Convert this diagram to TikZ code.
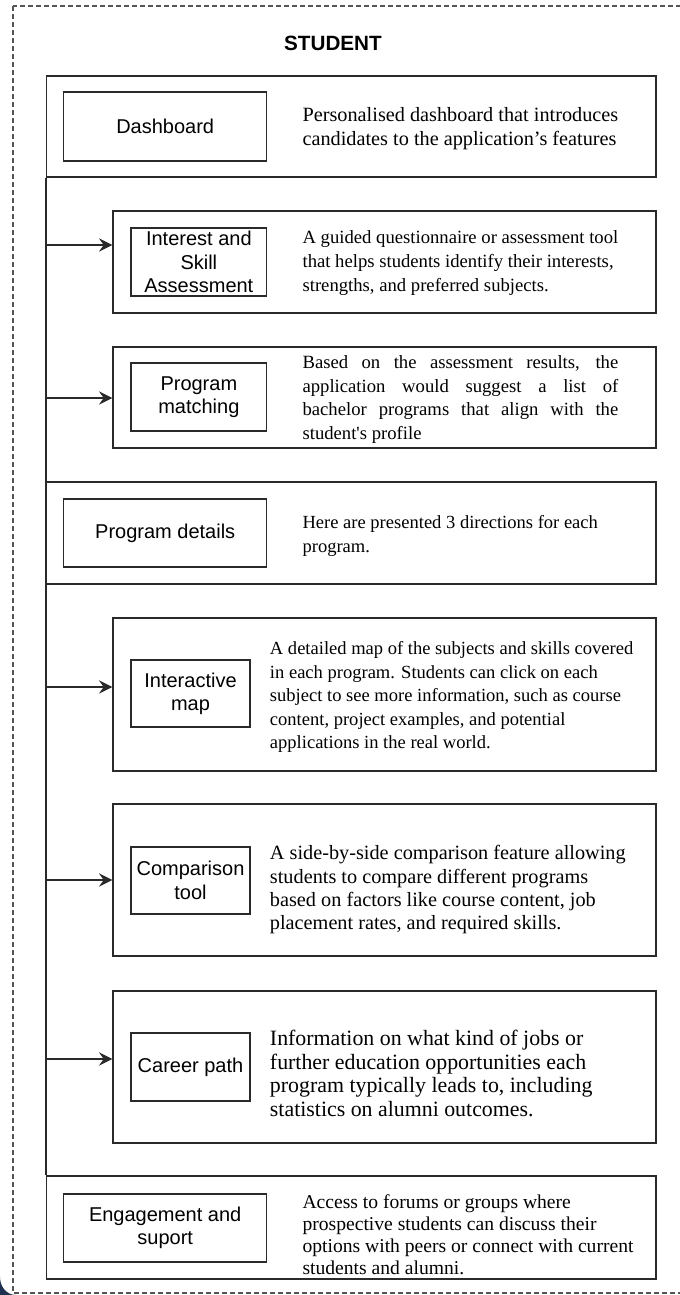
\documentclass[tikz,border=0pt]{standalone}
\usepackage{fontspec}
\setmainfont{Liberation Serif}
\setsansfont{Liberation Sans}
\usetikzlibrary{arrows.meta,fit,calc}

\definecolor{ink}{HTML}{2A2A2A}
\definecolor{framegray}{HTML}{555555}
\definecolor{navy}{HTML}{1F3050}

\tikzset{
  band/.style={draw=ink, line width=1pt, inner sep=0pt},
  tagbox/.style={draw=ink, line width=1pt, inner sep=0pt},
  tagtext/.style={font=\sffamily\fontsize{15}{17.5}\selectfont, align=center, text=black, inner sep=0pt},
  desc/.style={align=left, anchor=west, inner sep=0pt, text=black},
  spine/.style={draw=ink, line width=1pt},
  arr/.style={draw=ink, line width=1.1pt, -{Stealth[length=10pt,width=10pt,inset=3.5pt]}},
  frame/.style={draw=framegray, line width=0.8pt, dash pattern=on 3.75pt off 2.25pt},
}

\begin{document}
\begin{tikzpicture}[x=0.75pt,y=-0.75pt]
\useasboundingbox (0,0) rectangle (680,1295);

% outer dashed swimlane frame, running off the right edge
\begin{scope}
  \clip (0,0) rectangle (680,1295);
  \draw[frame] (13,6) rectangle (720,1293);
  \fill[navy] (0,1277) .. controls (0,1286) and (6,1295) .. (16,1295) -- (0,1295) -- cycle;
\end{scope}

\node[font=\sffamily\bfseries\fontsize{15.5}{18}\selectfont, inner sep=0pt] (title) at (333,43) {STUDENT};

% Dashboard
\node[band, fit={(46.5,76)(656,177)}] (dashB) {};
\node[tagbox, fit={(63.7,92)(266.7,161)}] (dashL) {};
\node[tagtext] (dashLt) at (dashL.center) {Dashboard};
\node[desc, font=\rmfamily\fontsize{15.2}{17.5}\selectfont] (dashT) at (302.3,128.5)
  {Personalised dashboard that introduces\\candidates to the application’s features};

% Interest and skill assessment
\node[band, fit={(113,211)(656,313)}] (intB) {};
\node[tagbox, fit={(131,228)(266.7,296)}] (intL) {};
\node[tagtext] (intLt) at (intL.center) {Interest and\\Skill\\Assessment};
\node[desc, font=\rmfamily\fontsize{14}{18}\selectfont] (intT) at (302.3,263)
  {A guided questionnaire or assessment tool\\that helps students identify their interests,\\strengths, and preferred subjects.};

% Program matching
\node[band, fit={(113,347)(656,448)}] (matB) {};
\node[tagbox, fit={(131,363)(266.7,431)}] (matL) {};
\node[tagtext] (matLt) at (matL.center) {Program\\matching};
\node[desc, font=\rmfamily\fontsize{14}{17.8}\selectfont] (matT) at (302.3,399.5)
  {\makebox[236.8pt][s]{Based on the assessment results, the}\\
   \makebox[236.8pt][s]{application would suggest a list of}\\
   \makebox[236.8pt][s]{bachelor programs that align with the}\\
   student\textquotesingle s profile};

% Program details
\node[band, fit={(46.5,482)(656,584)}] (detB) {};
\node[tagbox, fit={(63.7,499)(266.7,567)}] (detL) {};
\node[tagtext] (detLt) at (detL.center) {Program details};
\node[desc, font=\rmfamily\fontsize{13.9}{18}\selectfont] (detT) at (302.3,536)
  {Here are presented 3 directions for each\\program.};

% Interactive map
\node[band, fit={(113,618)(656,771)}] (mapB) {};
\node[tagbox, fit={(131,660)(250,727)}] (mapL) {};
\node[tagtext] (mapLt) at (mapL.center) {Interactive\\map};
\node[desc, font=\rmfamily\fontsize{13.9}{17.6}\selectfont] (mapT) at (269.7,697)
  {A detailed map of the subjects and skills covered\\in each program. Students can click on each\\subject to see more information, such as course\\content, project examples, and potential\\applications in the real world.};

% Comparison tool
\node[band, fit={(113,804)(656,956)}] (cmpB) {};
\node[tagbox, fit={(131,847)(250,914)}] (cmpL) {};
\node[tagtext] (cmpLt) at (cmpL.center) {Comparison\\tool};
\node[desc, font=\rmfamily\fontsize{15.2}{17.5}\selectfont] (cmpT) at (269.7,890)
  {A side-by-side comparison feature allowing\\students to compare different programs\\based on factors like course content, job\\placement rates, and required skills.};

% Career path
\node[band, fit={(113,991)(656,1143)}] (carB) {};
\node[tagbox, fit={(131,1033)(250,1101)}] (carL) {};
\node[tagtext] (carLt) at (carL.center) {Career path};
\node[desc, font=\rmfamily\fontsize{16.4}{17.8}\selectfont] (carT) at (269.7,1073.5)
  {Information on what kind of jobs or\\further education opportunities each\\program typically leads to, including\\statistics on alumni outcomes.};

% Engagement and support
\node[band, fit={(46.5,1176)(656,1279)}] (engB) {};
\node[tagbox, fit={(63.7,1194)(266.7,1262)}] (engL) {};
\node[tagtext] (engLt) at (engL.center) {Engagement and\\suport};
\node[desc, font=\rmfamily\fontsize{14.7}{16.5}\selectfont] (engT) at (302.3,1235)
  {Access to forums or groups where\\prospective students can discuss their\\options with peers or connect with current\\students and alumni.};

% vertical spine and the branches off it
\draw[spine] (dashB.south west) -- (engB.north west);
\coordinate (a1) at (46.5,245);
\coordinate (a2) at (46.5,398);
\coordinate (a3) at (46.5,687);
\coordinate (a4) at (46.5,880);
\coordinate (a5) at (46.5,1059);
\draw[arr] (a1) -- (a1 -| intB.west);
\draw[arr] (a2) -- (a2 -| matB.west);
\draw[arr] (a3) -- (a3 -| mapB.west);
\draw[arr] (a4) -- (a4 -| cmpB.west);
\draw[arr] (a5) -- (a5 -| carB.west);
\end{tikzpicture}
\end{document}
